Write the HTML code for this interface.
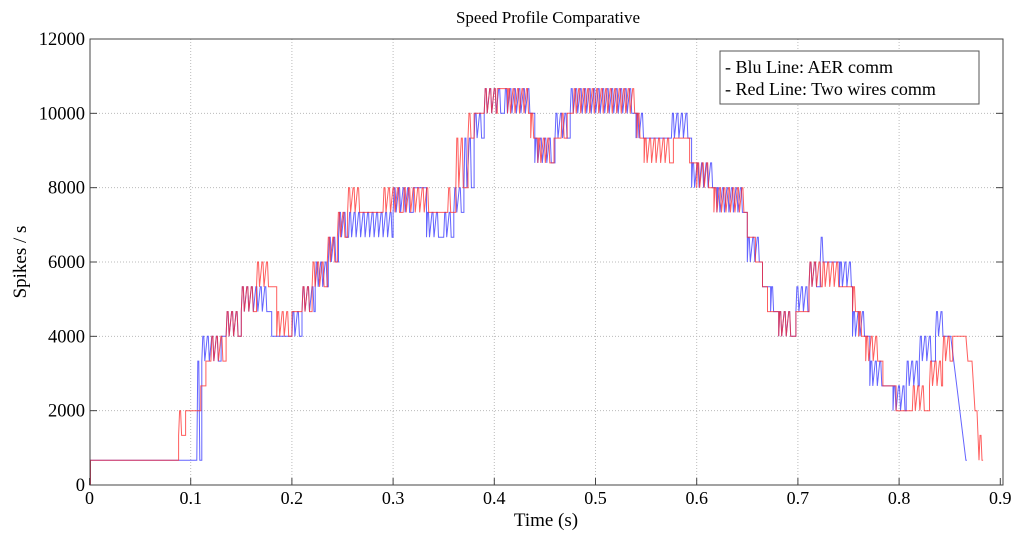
<!DOCTYPE html>
<html><head><meta charset="utf-8"><style>
body{margin:0;background:#fff;}
svg text{font-family:"Liberation Serif",serif;fill:#000;}
</style></head><body>
<svg id="chart" width="1024" height="539" viewBox="0 0 1024 539" xmlns="http://www.w3.org/2000/svg">
<rect width="1024" height="539" fill="#fff"/>
<text x="548" y="23" font-size="17" text-anchor="middle">Speed Profile Comparative</text>
<g id="grid"></g>
<g id="series"></g>
<rect x="90" y="39" width="913" height="446" fill="none" stroke="#444" stroke-width="1"/>
<g id="ticks"></g>
<text x="546" y="526" font-size="19" text-anchor="middle">Time (s)</text>
<text transform="translate(26,262) rotate(-90)" font-size="19" text-anchor="middle">Spikes / s</text>
<g>
<rect x="720" y="51" width="259" height="53" fill="#fff" stroke="#555" stroke-width="1"/>
<text x="725" y="73" font-size="18">- Blu Line: AER comm</text>
<text x="725" y="95" font-size="18">- Red Line: Two wires comm</text>
</g>
</svg>
<script>
const xTicks=[0,0.1,0.2,0.3,0.4,0.5,0.6,0.7,0.8,0.9];
const yTicks=[0,2000,4000,6000,8000,10000,12000];
const levelStep=666.67;
// segments: [tStart, tEnd, lowLevel, highLevel] (level index * 666.67 spikes/s)
const blueSeg=[[0,0.001,0,1],[0.001,0.106,1,1],[0.106,0.111,1,5],[0.111,0.13,5,6],[0.13,0.135,6,6],[0.135,0.15,6,7],[0.15,0.18,7,8],[0.18,0.2,6,6],[0.2,0.21,6,7],[0.21,0.223,7,8],[0.223,0.236,8,9],[0.236,0.246,9,10],[0.246,0.256,10,11],[0.256,0.3,10,11],[0.3,0.32,11,12],[0.32,0.333,12,12],[0.333,0.35,10,11],[0.35,0.36,10,11],[0.36,0.37,11,12],[0.37,0.38,12,14],[0.38,0.39,14,15],[0.39,0.41,15,16],[0.41,0.44,15,16],[0.44,0.46,13,14],[0.46,0.475,14,15],[0.475,0.54,15,16],[0.54,0.55,14,15],[0.55,0.575,14,14],[0.575,0.595,14,15],[0.595,0.62,12,13],[0.62,0.65,11,12],[0.65,0.665,9,10],[0.665,0.673,8,8],[0.673,0.681,7,8],[0.681,0.698,6,7],[0.698,0.711,7,8],[0.711,0.722,8,9],[0.722,0.726,9,10],[0.726,0.741,9,9],[0.741,0.754,8,9],[0.754,0.771,6,7],[0.771,0.784,4,5],[0.784,0.794,4,4],[0.794,0.807,3,4],[0.807,0.82,4,5],[0.82,0.836,5,6],[0.836,0.846,6,7],[0.846,0.851,6,6],[0.866,0.867,1,1]];
const redSeg=[[0,0.001,0,1],[0.001,0.088,1,1],[0.088,0.095,2,3],[0.095,0.11,3,3],[0.11,0.115,4,4],[0.115,0.12,5,5],[0.12,0.135,5,6],[0.135,0.15,6,7],[0.15,0.165,7,8],[0.165,0.178,8,9],[0.178,0.185,8,8],[0.185,0.2,6,7],[0.2,0.21,7,7],[0.21,0.22,7,8],[0.22,0.235,8,9],[0.235,0.245,9,10],[0.245,0.255,10,11],[0.255,0.27,11,12],[0.27,0.29,11,11],[0.29,0.31,11,12],[0.31,0.338,11,12],[0.338,0.354,11,11],[0.354,0.362,11,12],[0.362,0.374,12,14],[0.374,0.38,14,15],[0.38,0.39,15,15],[0.39,0.403,15,16],[0.403,0.407,16,16],[0.407,0.409,16,17],[0.409,0.413,16,16],[0.413,0.436,15,16],[0.436,0.443,14,15],[0.443,0.459,13,14],[0.459,0.466,14,14],[0.466,0.472,14,15],[0.472,0.478,15,15],[0.478,0.541,15,16],[0.541,0.548,14,15],[0.548,0.577,13,14],[0.577,0.593,14,14],[0.593,0.6,13,13],[0.6,0.617,12,13],[0.617,0.65,11,12],[0.65,0.658,10,10],[0.658,0.665,9,9],[0.665,0.67,8,8],[0.67,0.681,7,7],[0.681,0.698,6,7],[0.698,0.711,7,7],[0.711,0.724,8,9],[0.724,0.744,8,9],[0.744,0.754,8,8],[0.754,0.76,7,8],[0.76,0.767,6,7],[0.767,0.784,5,6],[0.784,0.797,4,4],[0.797,0.813,3,3],[0.813,0.83,3,4],[0.83,0.843,4,5],[0.843,0.853,5,6],[0.853,0.866,6,6],[0.868,0.872,5,5],[0.875,0.877,3,4],[0.879,0.883,1,2]];

const NS='http://www.w3.org/2000/svg';
const X0=89.5,XS=1012,Y0=485,YS=446/12000;
function sx(t){return X0+t*XS;}
function sy(v){return Y0-v*YS;}
function mk(tag,attrs,parent){const e=document.createElementNS(NS,tag);for(const k in attrs)e.setAttribute(k,attrs[k]);parent.appendChild(e);return e;}
const grid=document.getElementById('grid'),ticks=document.getElementById('ticks'),series=document.getElementById('series');
xTicks.forEach(t=>{
  const x=sx(t);
  if(t>0&&t<0.9){const g=mk('line',{x1:x,x2:x,y1:39,y2:485,stroke:'#bbb','stroke-dasharray':'1,2'},grid);
  
  }
  const tk=mk('line',{x1:x,x2:x,y1:485,y2:478,stroke:'#444'},ticks);
  
  
  const tx=mk('text',{x:x,y:504,'font-size':'18','text-anchor':'middle'},ticks);
  tx.textContent=String(t);
  
  
});
yTicks.forEach(v=>{
  const y=sy(v);
  if(v>0&&v<12000){const g=mk('line',{x1:90,x2:1003,y1:y,y2:y,stroke:'#bbb','stroke-dasharray':'1,2'},grid);
  
  }
  const tk=mk('line',{x1:90,x2:97,y1:y,y2:y,stroke:'#444'},ticks);
  
  
  const tk2=mk('line',{x1:996,x2:1003,y1:y,y2:y,stroke:'#444'},ticks);
  
  
  const tx=mk('text',{x:85,y:y+6,'font-size':'18.5','text-anchor':'end'},ticks);
  tx.textContent=String(v);
  
  
});
function buildPath(segs){
  let d='';
  segs.forEach((s,i)=>{
    const xa=sx(s[0]),xb=sx(s[1]),lo=sy(s[2]*levelStep),hi=sy(s[3]*levelStep);
    if(i===0)d+='M'+xa.toFixed(1)+','+lo.toFixed(1);
    else d+='L'+xa.toFixed(1)+','+lo.toFixed(1);
    if(s[2]!==s[3]){
      let x=xa;
      while(x+4<=xb){
        d+='L'+(x+1).toFixed(1)+','+hi.toFixed(1)+'L'+(x+2).toFixed(1)+','+hi.toFixed(1)+'L'+(x+3).toFixed(1)+','+lo.toFixed(1);
        x+=4.5;
      }
    }
    d+='L'+xb.toFixed(1)+','+lo.toFixed(1);
  });
  return d;
}
const bp=mk('path',{d:buildPath(blueSeg),fill:'none',stroke:'#3030ff','stroke-width':'1','stroke-opacity':'0.75'},series);


const rp=mk('path',{d:buildPath(redSeg),fill:'none',stroke:'#ff2828','stroke-width':'1','stroke-opacity':'0.75'},series);


</script>
</body></html>
